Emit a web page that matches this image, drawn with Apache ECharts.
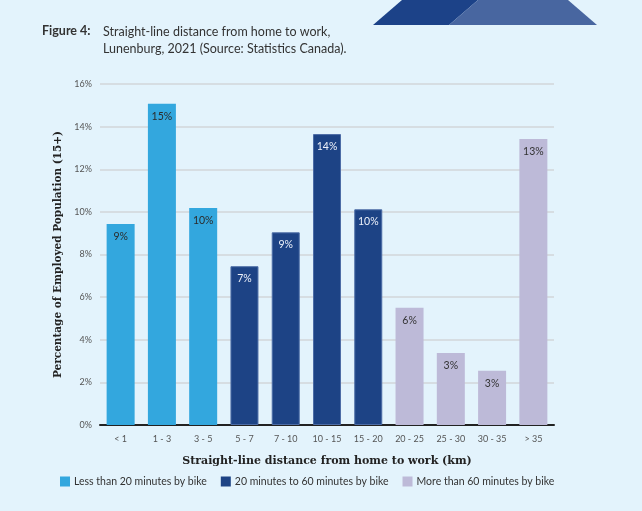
<!DOCTYPE html>
<html>
<head>
<meta charset="utf-8">
<script src="https://cdn.jsdelivr.net/npm/echarts@6/dist/echarts.min.js"></script>
<style>
  html, body { margin: 0; padding: 0; background: #e3f3fc; }
  #chartDist { width: 642px; height: 511px; }
</style>
</head>
<body>
<div id="chartDist"></div>
<script>
// distance bands (km) and share of employed population (%)
var categories = ['< 1', '1 - 3', '3 - 5', '5 - 7', '7 - 10', '10 - 15', '15 - 20', '20 - 25', '25 - 30', '30 - 35', '> 35'];
var shares = [9.43, 15.07, 10.18, 7.45, 9.04, 13.65, 10.12, 5.5, 3.38, 2.55, 13.42];
// which bike-time group each band falls in
var groupOf = [0, 0, 0, 1, 1, 1, 1, 2, 2, 2, 2];
var groupNames = ['Less than 20 minutes by bike', '20 minutes to 60 minutes by bike', 'More than 60 minutes by bike'];
var yTicks = [0, 2, 4, 6, 8, 10, 12, 14, 16];

var groupColors = ['#33a7de', '#1d4385', '#bdbad8'];
var labelColors = ['#2b2b2b', '#eef2fa', '#333333'];

var myChart = echarts.init(document.getElementById('chartDist'));

var seriesList = [];
for (var g = 0; g < groupNames.length; g++) {
    var d = [];
    for (var i = 0; i < shares.length; i++) {
        d.push(groupOf[i] == g ? shares[i] : '-');
    }
    seriesList.push({
        name: groupNames[g],
        type: 'bar',
        barWidth: 28,
        barGap: '-100%',
        itemStyle: {
            color: groupColors[g],
            borderColor: g == 1 ? '#4c6ca6' : groupColors[g],
            borderWidth: g == 1 ? 1 : 0
        },
        label: {
            show: true,
            position: 'insideTop',
            distance: 7,
            fontSize: 10.5,
            fontFamily: 'Lato',
            color: labelColors[g],
            formatter: function (p) { return Math.round(p.value) + '%'; }
        },
        data: d
    });
}

var option = {
    backgroundColor: '#e3f3fc',
    animation: false,
    graphic: [
        {
            type: 'polygon',
            shape: { points: [[373, 25], [402, 0], [478, 0], [449, 25]] },
            style: { fill: '#1c4288' }
        },
        {
            type: 'polygon',
            shape: { points: [[449, 25], [478, 0], [568, 0], [597, 25]] },
            style: { fill: '#4866a0' }
        },
        {
            type: 'text', left: 42, top: 24,
            style: { text: 'Figure 4:', font: 'bold 12.5px Lato', fill: '#333' }
        },
        {
            type: 'text', left: 103, top: 23,
            style: {
                text: 'Straight-line distance from home to work,\nLunenburg, 2021 (Source: Statistics Canada).',
                font: '12.5px Lato', fill: '#333', lineHeight: 17
            }
        }
    ],
    legend: {
        data: groupNames,
        left: 55,
        top: 471,
        icon: 'rect',
        itemWidth: 10,
        itemHeight: 10,
        itemGap: 14,
        itemStyle: { borderWidth: 0 },
        textStyle: { fontSize: 10.5, fontFamily: 'Lato', color: '#333', padding: [0, 0, 0, -1] }
    },
    grid: {
        left: 100,
        right: 88,
        top: 84,
        bottom: 86
    },
    xAxis: {
        type: 'category',
        data: categories,
        name: 'Straight-line distance from home to work (km)',
        nameLocation: 'middle',
        nameGap: 31,
        nameTextStyle: { fontFamily: 'DejaVu Serif', fontWeight: 'bold', fontSize: 11, color: '#222' },
        axisLine: { lineStyle: { color: '#222', width: 2 } },
        axisTick: { show: false },
        axisLabel: { fontSize: 9, fontFamily: 'Lato', color: '#555', margin: 10 }
    },
    yAxis: {
        type: 'value',
        min: yTicks[0],
        max: yTicks[yTicks.length - 1],
        interval: 2,
        name: 'Percentage of Employed Population (15+)',
        nameLocation: 'middle',
        nameGap: 36,
        nameTextStyle: { fontFamily: 'DejaVu Serif', fontWeight: 'bold', fontSize: 10.5, color: '#222' },
        axisLine: { show: false },
        axisTick: { show: false },
        splitLine: { lineStyle: { color: '#d2d6da', width: 1.5 } },
        axisLabel: { fontSize: 9, fontFamily: 'Lato', color: '#555', margin: 8, formatter: '{value}%' }
    },
    series: seriesList
};
myChart.setOption(option);
</script>
</body>
</html>
